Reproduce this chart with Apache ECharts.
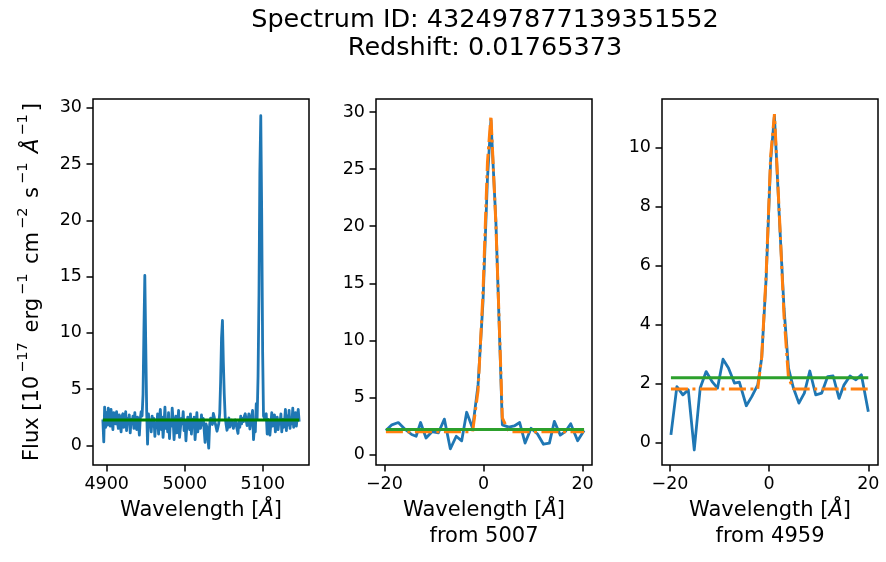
<!DOCTYPE html>
<html>
<head>
<meta charset="utf-8">
<script src="https://cdn.jsdelivr.net/npm/echarts@6/dist/echarts.min.js"></script>
<style>
  html, body { margin: 0; padding: 0; background: #fff; }
  #chart { width: 886px; height: 562px; }
</style>
</head>
<body>
<div id="chart"></div>
<script>
// ---------------- DATA ----------------
const titleLine1 = 'Spectrum ID: 432497877139351552';
const titleLine2 = 'Redshift: 0.01765373';

// Panel 1: observed-frame spectrum
const overviewWave = [
  4895.0, 4896.2, 4897.3, 4898.5, 4899.7, 4900.9, 4902.0, 4903.2, 4904.4, 4905.5,
  4906.7, 4907.9, 4909.0, 4910.2, 4911.4, 4912.6, 4913.7, 4914.9, 4916.1, 4917.2,
  4918.4, 4919.6, 4920.7, 4921.9, 4923.1, 4924.3, 4925.4, 4926.6, 4927.8, 4928.9,
  4930.1, 4931.3, 4932.4, 4933.6, 4934.8, 4936.0, 4937.1, 4938.3, 4939.5, 4940.6,
  4941.8, 4943.0, 4944.1, 4945.3, 4946.5, 4947.7, 4948.8, 4950.0, 4951.2, 4952.3,
  4953.5, 4954.7, 4955.8, 4957.0, 4958.2, 4959.4, 4960.5, 4961.7, 4962.9, 4964.0,
  4965.2, 4966.4, 4967.5, 4968.7, 4969.9, 4971.1, 4972.2, 4973.4, 4974.6, 4975.7,
  4976.9, 4978.1, 4979.2, 4980.4, 4981.6, 4982.8, 4983.9, 4985.1, 4986.3, 4987.4,
  4988.6, 4989.8, 4990.9, 4992.1, 4993.3, 4994.5, 4995.6, 4996.8, 4998.0, 4999.1,
  5000.3, 5001.5, 5002.6, 5003.8, 5005.0, 5006.2, 5007.3, 5008.5, 5009.7, 5010.8,
  5012.0, 5013.2, 5014.3, 5015.5, 5016.7, 5017.9, 5019.0, 5020.2, 5021.4, 5022.5,
  5023.7, 5024.9, 5026.0, 5027.2, 5028.4, 5029.6, 5030.7, 5031.9, 5033.1, 5034.2,
  5035.4, 5036.6, 5037.7, 5038.9, 5040.1, 5041.3, 5042.4, 5043.6, 5044.8, 5045.9,
  5047.1, 5048.3, 5049.4, 5050.6, 5051.8, 5053.0, 5054.1, 5055.3, 5056.5, 5057.6,
  5058.8, 5060.0, 5061.1, 5062.3, 5063.5, 5064.7, 5065.8, 5067.0, 5068.2, 5069.3,
  5070.5, 5071.7, 5072.8, 5074.0, 5075.2, 5076.4, 5077.5, 5078.7, 5079.9, 5081.0,
  5082.2, 5083.4, 5084.5, 5085.7, 5086.9, 5088.1, 5089.2, 5090.4, 5091.6, 5092.7,
  5093.9, 5095.1, 5096.2, 5097.4, 5098.6, 5099.8, 5100.9, 5102.1, 5103.3, 5104.4,
  5105.6, 5106.8, 5107.9, 5109.1, 5110.3, 5111.5, 5112.6, 5113.8, 5115.0, 5116.1,
  5117.3, 5118.5, 5119.6, 5120.8, 5122.0, 5123.2, 5124.3, 5125.5, 5126.7, 5127.8,
  5129.0, 5130.2, 5131.3, 5132.5, 5133.7, 5134.9, 5136.0, 5137.2, 5138.4, 5139.5,
  5140.7, 5141.9, 5143.0, 5144.2, 5145.4, 5146.6
];
const overviewFlux = [
  2.3, 0.3, 3.4, 1.6, 2.9, 1.8, 3.3, 2.5, 1.7, 3.2,
  2.2, 1.4, 2.9, 2.6, 1.9, 3.0, 2.1, 1.5, 2.7, 2.0,
  1.2, 2.6, 2.8, 1.6, 2.2, 3.0, 1.3, 2.4, 1.9, 2.7,
  1.1, 2.3, 2.0, 2.6, 1.5, 2.9, 1.8, 1.4, 2.5, 2.1,
  0.9, 2.4, 3.0, 2.6, 4.5, 10.5, 15.1, 9.0, 3.0, 0.1,
  2.8, 1.9, 2.2, 1.2, 2.6, 1.7, 2.4, 0.8, 2.0, 1.6,
  2.8, 1.0, 2.4, 3.2, 1.4, 2.5, 0.7, 1.9, 3.4, 1.5,
  2.3, 1.2, 2.9, 0.6, 2.1, 1.7, 3.3, 2.2, 0.5, 1.8,
  2.6, 1.1, 2.0, 3.1, 0.7, 1.6, 2.4, 1.9, 3.0, 1.3,
  2.2, 0.4, 1.7, 2.5, 2.0, 1.4, 2.8, 1.0, 2.3, 1.8,
  2.5, 0.5, 1.6, 2.9, 1.2, 2.2, 2.0, 1.5, 2.7, 1.8,
  2.4, 1.3, 0.26, 1.9, 1.62, 1.79, -0.25, 1.85, 2.41, 2.07,
  1.85, 2.83, 2.53, 2.02, 2.05, 1.25, 1.56, 1.96, 2.87, 5.58,
  9.55, 11.1, 7.5, 4.56, 2.53, 1.85, 1.34, 1.68, 2.43, 1.62,
  1.68, 2.24, 2.26, 1.5, 1.96, 2.26, 2.13, 2.3, 1.05, 2.1,
  1.6, 2.6, 1.9, 2.4, 2.1, 2.6, 2.8, 2.2, 1.75, 1.6,
  2.8, 1.45, 2.0, 1.9, 3.1, 0.5, 1.6, 1.2, 3.7, 2.3,
  6.1, 13.4, 24.2, 29.3, 20.4, 8.2, 2.6, 2.4, 2.5, 2.8,
  1.0, 2.3, 1.8, 0.9, 1.0, 2.9, 1.7, 2.0, 2.7, 1.2,
  2.1, 2.5, 1.4, 2.2, 1.9, 2.8, 1.2, 2.3, 1.6, 2.1,
  3.2, 1.3, 2.6, 1.8, 3.1, 1.5, 2.4, 1.9, 3.3, 1.6,
  2.2, 2.9, 1.7, 2.5, 3.2, 2.1
];
const overviewContinuum = [2.25, 2.25];

// Panel 2: around [OIII] 5007 (rest-frame offset, Angstrom)
const o5007Offset = [
  -19.7, -18.5, -17.2, -15.8, -14.5, -13.6, -12.7, -11.6, -10.4, -9.1,
  -7.9, -6.7, -5.5, -4.4, -3.4, -2.2, -1.1, -0.1, 0.8, 1.5,
  2.5, 3.4, 3.8, 5.1, 6.2, 7.3, 8.4, 9.6, 10.9, 12.1,
  13.3, 14.3, 15.5, 16.5, 17.6, 19.0, 20.3
];
const o5007Flux = [
  2.1, 2.6, 2.8, 2.2, 1.75, 1.6, 2.8, 1.45, 2.0, 1.9,
  3.1, 0.5, 1.6, 1.2, 3.7, 2.3, 6.1, 13.4, 24.2, 29.3,
  20.4, 8.2, 2.6, 2.4, 2.5, 2.8, 1.0, 2.3, 1.8, 0.9,
  1.0, 2.9, 1.7, 2.0, 2.7, 1.2, 2.1
];
const o5007Fit = [
  2.0, 2.0, 2.0, 2.0, 2.0, 2.0, 2.0, 2.0, 2.0, 2.0,
  2.0, 2.0, 2.0, 2.0, 2.0, 2.0, 5.6, 14.2, 25.6, 29.7,
  20.2, 8.6, 3.2, 2.0, 2.0, 2.0, 2.0, 2.0, 2.0, 2.0,
  2.0, 2.0, 2.0, 2.0, 2.0, 2.0, 2.0
];
const o5007Continuum = [2.19, 2.19];

// Panel 3: around [OIII] 4959
const o4959Offset = [
  -19.8, -18.6, -17.4, -16.3, -15.1, -13.9, -12.7, -11.5, -10.4, -9.3,
  -8.2, -7.0, -6.0, -4.6, -3.5, -2.3, -1.5, -0.6, 0.3, 1.07,
  2.1, 3.0, 3.9, 4.9, 6.0, 7.1, 8.2, 9.4, 10.6, 11.8,
  12.9, 14.1, 15.1, 16.3, 17.5, 18.6, 20.0
];
const o4959Flux = [
  0.26, 1.9, 1.62, 1.79, -0.25, 1.85, 2.41, 2.07, 1.85, 2.83,
  2.53, 2.02, 2.05, 1.25, 1.56, 1.96, 2.87, 5.58, 9.55, 11.1,
  7.5, 4.56, 2.53, 1.85, 1.34, 1.68, 2.43, 1.62, 1.68, 2.24,
  2.26, 1.5, 1.96, 2.26, 2.13, 2.3, 1.05
];
const o4959Fit = [
  1.82, 1.82, 1.82, 1.82, 1.82, 1.82, 1.82, 1.82, 1.82, 1.82,
  1.82, 1.82, 1.82, 1.82, 1.82, 1.82, 2.9, 5.7, 9.7, 11.15,
  7.6, 4.3, 2.2, 1.82, 1.82, 1.82, 1.82, 1.82, 1.82, 1.82,
  1.82, 1.82, 1.82, 1.82, 1.82, 1.82, 1.82
];
const o4959Continuum = [2.2, 2.2];

const ticks1X = [4900, 5000, 5100];
const ticks1Y = [0, 5, 10, 15, 20, 25, 30];
const ticks2X = [-20, 0, 20];
const ticks2Y = [0, 5, 10, 15, 20, 25, 30];
const ticks3X = [-20, 0, 20];
const ticks3Y = [0, 2, 4, 6, 8, 10];

// ---------------- STYLE ----------------
const FONT = 'DejaVu Sans';
const FS = 17.5;    // tick labels
const FL = 21;      // axis labels
const FSUP = 14.5;  // superscripts
const C_BLUE = '#1f77b4', C_ORANGE = '#ff7f0e', C_GREEN = '#2ca02c', C_DKGREEN = '#008000';
const LW = 2.8;
const DASHDOT = [17, 4.5, 3, 4.5];

function pairs(xs, ys) { return xs.map((x, i) => [x, ys[i]]); }
function ends(xs, ys) { return [[xs[0], ys[0]], [xs[xs.length - 1], ys[1]]]; }
function fmt(v) { return v < 0 ? '\u2212' + Math.abs(v) : String(v); }

const gridBase = { show: true, borderColor: '#000', borderWidth: 1.5, backgroundColor: 'transparent', containLabel: false };
const grids = [
  Object.assign({ left: 93, top: 99, width: 216, height: 366 }, gridBase),
  Object.assign({ left: 376, top: 99, width: 216, height: 366 }, gridBase),
  Object.assign({ left: 662, top: 99, width: 216, height: 366 }, gridBase)
];

function xAxis(idx, min, max, ticks, name) {
  return {
    type: 'value', gridIndex: idx, min: min, max: max,
    axisLine: { show: false, onZero: false },
    splitLine: { show: false },
    axisTick: { show: true, length: 6.5, lineStyle: { color: '#000', width: 1.5 }, customValues: ticks },
    axisLabel: { customValues: ticks, formatter: fmt, color: '#000', fontFamily: FONT, fontSize: FS, margin: 10 },
    name: name, nameLocation: 'middle', nameGap: 29,
    nameTextStyle: { color: '#000', fontFamily: FONT, fontSize: FL, lineHeight: 26, verticalAlign: 'top',
      rich: { i: { fontStyle: 'italic', fontFamily: FONT, fontSize: FL, color: '#000', lineHeight: 26 } } }
  };
}
function yAxis(idx, min, max, ticks, name) {
  const ax = {
    type: 'value', gridIndex: idx, min: min, max: max,
    axisLine: { show: false, onZero: false },
    splitLine: { show: false },
    axisTick: { show: true, length: 6.5, lineStyle: { color: '#000', width: 1.5 }, customValues: ticks },
    axisLabel: { customValues: ticks, formatter: fmt, color: '#000', fontFamily: FONT, fontSize: FS, margin: 11 }
  };
  if (name) {
    const sup = { fontSize: FSUP, fontFamily: FONT, color: '#000', verticalAlign: 'top', lineHeight: 27, padding: [0, 3, 0, 3] };
    Object.assign(ax, {
      name: name, nameLocation: 'middle', nameRotate: 90, nameGap: 50,
      nameTextStyle: { color: '#000', fontFamily: FONT, fontSize: FL,
        rich: {
          a: { fontSize: FL, fontFamily: FONT, color: '#000', lineHeight: 27, verticalAlign: 'bottom' },
          s: sup,
          i: { fontSize: FL, fontFamily: FONT, fontStyle: 'italic', color: '#000', lineHeight: 27, verticalAlign: 'bottom' }
        } }
    });
  }
  return ax;
}

const yName = '{a|Flux [10}{s|\u221217}{a| erg}{s|\u22121}{a| cm}{s|\u22122}{a| s}{s|\u22121}{a| }{i|\u00c5}{s|\u22121}{a|]}';

const option = {
  animation: false,
  backgroundColor: '#fff',
  graphic: [
    { type: 'text', x: 485, y: 20, style: { text: titleLine1, fill: '#000', font: '25.5px "DejaVu Sans"', textAlign: 'center', textVerticalAlign: 'middle' } },
    { type: 'text', x: 485, y: 48, style: { text: titleLine2, fill: '#000', font: '25.5px "DejaVu Sans"', textAlign: 'center', textVerticalAlign: 'middle' } }
  ],
  grid: grids,
  xAxis: [
    xAxis(0, 4882.4, 5159.2, ticks1X, 'Wavelength [{i|\u00c5}]'),
    xAxis(1, -21.7, 21.9, ticks2X, 'Wavelength [{i|\u00c5}]\nfrom 5007'),
    xAxis(2, -21.6, 21.95, ticks3X, 'Wavelength [{i|\u00c5}]\nfrom 4959')
  ],
  yAxis: [
    yAxis(0, -1.75, 30.78, ticks1Y, yName),
    yAxis(1, -0.92, 31.15, ticks2Y),
    yAxis(2, -0.76, 11.66, ticks3Y)
  ],
  series: [
    { type: 'line', xAxisIndex: 0, yAxisIndex: 0, data: pairs(overviewWave, overviewFlux), showSymbol: false, symbol: 'none',
      lineStyle: { color: C_BLUE, width: LW, join: 'round' } },
    { type: 'line', xAxisIndex: 0, yAxisIndex: 0, data: ends(overviewWave, overviewContinuum), showSymbol: false, symbol: 'none',
      lineStyle: { color: C_DKGREEN, width: LW } },

    { type: 'line', xAxisIndex: 1, yAxisIndex: 1, data: pairs(o5007Offset, o5007Flux), showSymbol: false, symbol: 'none',
      lineStyle: { color: C_BLUE, width: LW, join: 'round' } },
    { type: 'line', xAxisIndex: 1, yAxisIndex: 1, data: pairs(o5007Offset, o5007Fit), showSymbol: false, symbol: 'none',
      lineStyle: { color: C_ORANGE, width: 3, type: DASHDOT, cap: 'butt' } },
    { type: 'line', xAxisIndex: 1, yAxisIndex: 1, data: ends(o5007Offset, o5007Continuum), showSymbol: false, symbol: 'none',
      lineStyle: { color: C_GREEN, width: LW } },

    { type: 'line', xAxisIndex: 2, yAxisIndex: 2, data: pairs(o4959Offset, o4959Flux), showSymbol: false, symbol: 'none',
      lineStyle: { color: C_BLUE, width: LW, join: 'round' } },
    { type: 'line', xAxisIndex: 2, yAxisIndex: 2, data: pairs(o4959Offset, o4959Fit), showSymbol: false, symbol: 'none',
      lineStyle: { color: C_ORANGE, width: 3, type: DASHDOT, cap: 'butt' } },
    { type: 'line', xAxisIndex: 2, yAxisIndex: 2, data: ends(o4959Offset, o4959Continuum), showSymbol: false, symbol: 'none',
      lineStyle: { color: C_GREEN, width: LW } }
  ]
};

const chart = echarts.init(document.getElementById('chart'), null, { renderer: 'canvas' });
chart.setOption(option);
</script>
</body>
</html>
